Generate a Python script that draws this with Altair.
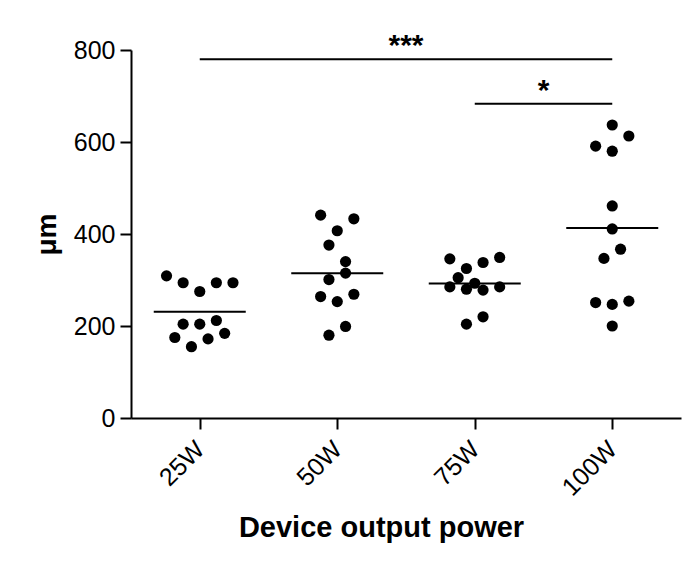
import altair as alt
import pandas as pd

groups = ["25W", "50W", "75W", "100W"]

vals_25 = [309, 294, 275, 294, 294, 204, 204, 212, 175, 172, 184, 155]
cols_25 = [-4, -2, 0, 2, 4, -2, 0, 2, -3, 1, 3, -1]
vals_50 = [441, 433, 407, 376, 340, 315, 301, 264, 253, 269, 199, 180]
cols_50 = [-2, 2, 0, -1, 1, 1, -1, -2, 0, 2, 1, -1]
vals_75 = [346, 349, 338, 325, 305, 285, 280, 293, 278, 285, 220, 204]
cols_75 = [-3, 3, 1, -1, -2, -3, -1, 0, 1, 3, 1, -1]
vals_100 = [637, 613, 591, 580, 461, 411, 367, 347, 251, 247, 254, 200]
cols_100 = [0, 2, -2, 0, 0, 0, 1, -1, -2, 0, 2, 0]

comp_from = ["25W", "75W"]
comp_to = ["100W", "100W"]
comp_y = [780, 683]
comp_label = ["***", "*"]

FONT = "Liberation Sans"
SLOT = 0.0604  # beeswarm column width in category units

rows = []
for g, vs, cs in zip(groups, [vals_25, vals_50, vals_75, vals_100],
                     [cols_25, cols_50, cols_75, cols_100]):
    for v, c in zip(vs, cs):
        rows.append({"group": g, "idx": groups.index(g), "value": v, "col": c})
df = pd.DataFrame(rows)

comp = pd.DataFrame({
    "a": [groups.index(g) for g in comp_from],
    "b": [groups.index(g) for g in comp_to],
    "y": comp_y,
    "label": comp_label,
})
comp["mid"] = (comp["a"] + comp["b"]) / 2

label_expr = "[" + ",".join("'%s'" % g for g in groups) + "][datum.value]"

xscale = alt.Scale(domain=[-0.5, 3.5], zero=False, nice=False)
yscale = alt.Scale(domain=[0, 800], nice=False)

xaxis = alt.Axis(values=[0, 1, 2, 3], labelExpr=label_expr, labelAngle=-45,
                 labelAlign="right", labelBaseline="middle", labelPadding=16,
                 labelFontSize=25, labelFont=FONT, labelColor="black",
                 tickSize=11, tickWidth=2, tickColor="black",
                 domainWidth=2, domainColor="black", grid=False,
                 title="Device output power", titleFont=FONT, titleFontSize=29,
                 titleFontWeight="bold", titleColor="black", titlePadding=13,
                 titleX=250)
yaxis = alt.Axis(values=[0, 200, 400, 600, 800], labelFontSize=25,
                 labelFont=FONT, labelColor="black", labelPadding=5,
                 tickSize=11, tickWidth=2, tickColor="black",
                 domainWidth=2, domainColor="black", grid=False,
                 title="μm", titleFont=FONT, titleFontSize=28,
                 titleFontWeight="bold", titleColor="black", titlePadding=12)

base = alt.Chart(df)

points = base.transform_calculate(
    xpos=f"datum.idx + datum.col * {SLOT}"
).mark_circle(size=125, color="black", opacity=1).encode(
    x=alt.X("xpos:Q", scale=xscale, axis=xaxis),
    y=alt.Y("value:Q", scale=yscale, axis=yaxis),
)

means = base.mark_tick(orient="horizontal", size=92, thickness=2,
                       color="black").encode(
    x=alt.X("idx:Q", scale=xscale),
    y=alt.Y("mean(value):Q", scale=yscale),
    detail="group:N",
)

cbase = alt.Chart(comp)
bars = cbase.mark_rule(color="black", strokeWidth=2).encode(
    x=alt.X("a:Q", scale=xscale),
    x2="b:Q",
    y=alt.Y("y:Q", scale=yscale),
)
stars = cbase.mark_text(font=FONT, fontSize=30, fontWeight="bold",
                        baseline="alphabetic", dy=-4, color="black").encode(
    x=alt.X("mid:Q", scale=xscale),
    y=alt.Y("y:Q", scale=yscale),
    text="label:N",
)

chart = alt.layer(points, means, bars, stars).properties(
    width=550, height=368,
    padding={"left": 123, "top": 42, "right": 10, "bottom": 140},
    autosize="none",
).configure_view(stroke=None)

chart.save("out.html", embed_options={"renderer": "svg", "actions": False})
